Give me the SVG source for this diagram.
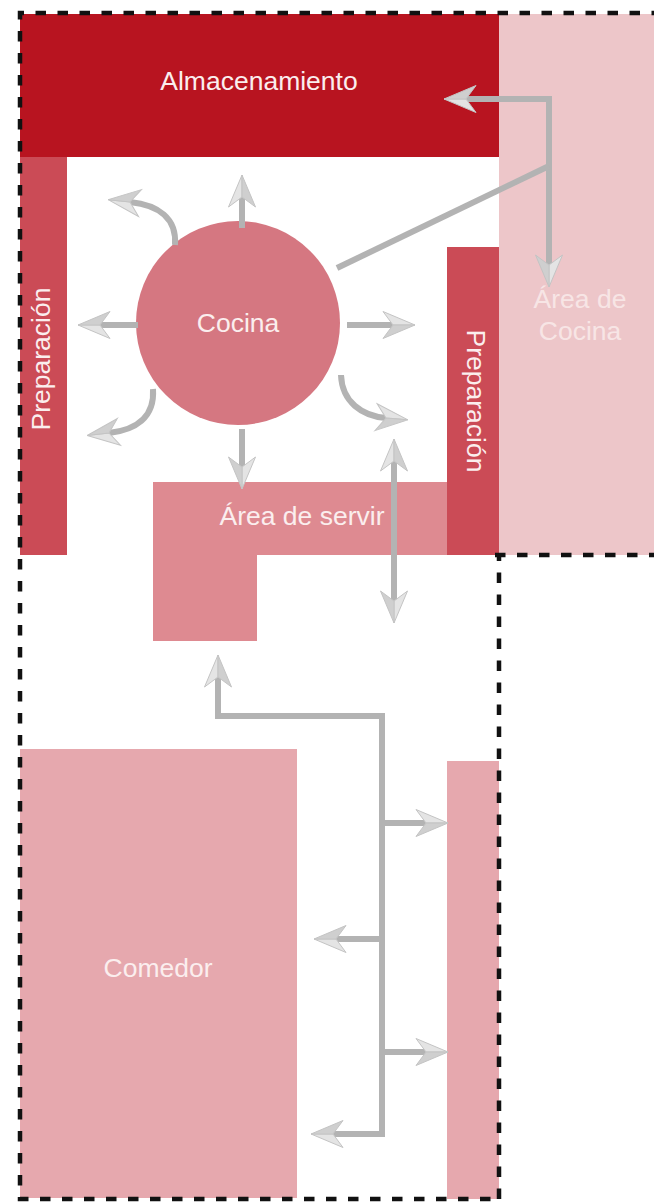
<svg xmlns="http://www.w3.org/2000/svg" width="654" height="1202" viewBox="0 0 654 1202">
<style>
text{font-family:"Liberation Sans",Arial,sans-serif;font-size:26.500px;text-anchor:middle;fill:#fbeeee}
.c{fill:none;stroke:#b3b3b3;stroke-width:6;stroke-linejoin:miter}
.a{marker-end:url(#h)}
.b{marker-start:url(#hs);marker-end:url(#h)}
.d{fill:none;stroke:#111;stroke-width:4.500;stroke-dasharray:10.500 11.500}
</style>
<defs>
<marker id="h" markerUnits="userSpaceOnUse" markerWidth="36" markerHeight="32" refX="10" refY="16" orient="auto" overflow="visible">
<path d="M0,2.500L32,16L10,16Z" fill="#e4e4e4" stroke="#c4c4c4"/>
<path d="M0,29.500L32,16L10,16Z" fill="#cfcfcf" stroke="#c4c4c4"/>
</marker>
<marker id="hs" markerUnits="userSpaceOnUse" markerWidth="36" markerHeight="32" refX="10" refY="16" orient="auto-start-reverse" overflow="visible">
<path d="M0,2.500L32,16L10,16Z" fill="#e4e4e4" stroke="#c4c4c4"/>
<path d="M0,29.500L32,16L10,16Z" fill="#cfcfcf" stroke="#c4c4c4"/>
</marker>
</defs>
<rect width="654" height="1202" fill="#fff"/>
<g id="area-cocina"><rect x="499" y="14" width="155" height="541" fill="#edc6c9"/><text x="580" y="308" fill-opacity=".8">Área de</text><text x="580" y="340" fill-opacity=".8">Cocina</text></g>
<g id="almacenamiento"><rect x="20" y="14" width="479" height="143" fill="#b81420"/><text x="259" y="90">Almacenamiento</text></g>
<g id="preparacion-izq"><rect x="20" y="157" width="47" height="398" fill="#cb4b56"/><text transform="translate(50,359) rotate(-90)">Preparación</text></g>
<g id="area-servir"><path d="M153,482H447V555H257V641H153Z" fill="#de8a91"/><text x="302" y="525">Área de servir</text></g>
<g id="preparacion-der"><rect x="447" y="247" width="52" height="308" fill="#cb4b56"/><text transform="translate(467,401) rotate(90)">Preparación</text></g>
<g id="cocina"><circle cx="238" cy="323" r="102" fill="#d57781"/><text x="238" y="332">Cocina</text></g>
<g id="comedor"><rect x="20" y="749" width="277" height="449" fill="#e6a8ae"/><text x="158" y="977">Comedor</text></g>
<g id="mesa-der"><rect x="447" y="761" width="52" height="438" fill="#e6a8ae"/></g>
<g id="limite">
<path class="d" stroke-dashoffset="-14" d="M654,13H20V1199H499"/>
<path class="d" d="M499,1199V555"/>
<path class="d" d="M495,555H654"/>
</g>
<g id="conectores">
<path class="c a" d="M242,228V197"/>
<path class="c a" d="M175,245C177,218 158,205 130,202"/>
<path class="c a" d="M138,325H100"/>
<path class="c a" d="M153,389C155,418 135,430 109,433"/>
<path class="c a" d="M242,429V467"/>
<path class="c a" d="M347,325H393"/>
<path class="c a" d="M341,375C342,402 362,416 386,418"/>
<path class="c b" d="M394,461V601"/>
<path class="c a" d="M549,167V265"/>
<path class="c a" d="M549,99H466"/>
<path class="c" d="M549,96V168"/>
<path class="c" d="M337,268L549,166"/>
<path class="c a" d="M382,716H218V677"/>
<path class="c a" d="M382,713V1134H333"/>
<path class="c a" d="M382,823H426"/>
<path class="c a" d="M382,939H336"/>
<path class="c a" d="M382,1052H426"/>
</g>
</svg>
